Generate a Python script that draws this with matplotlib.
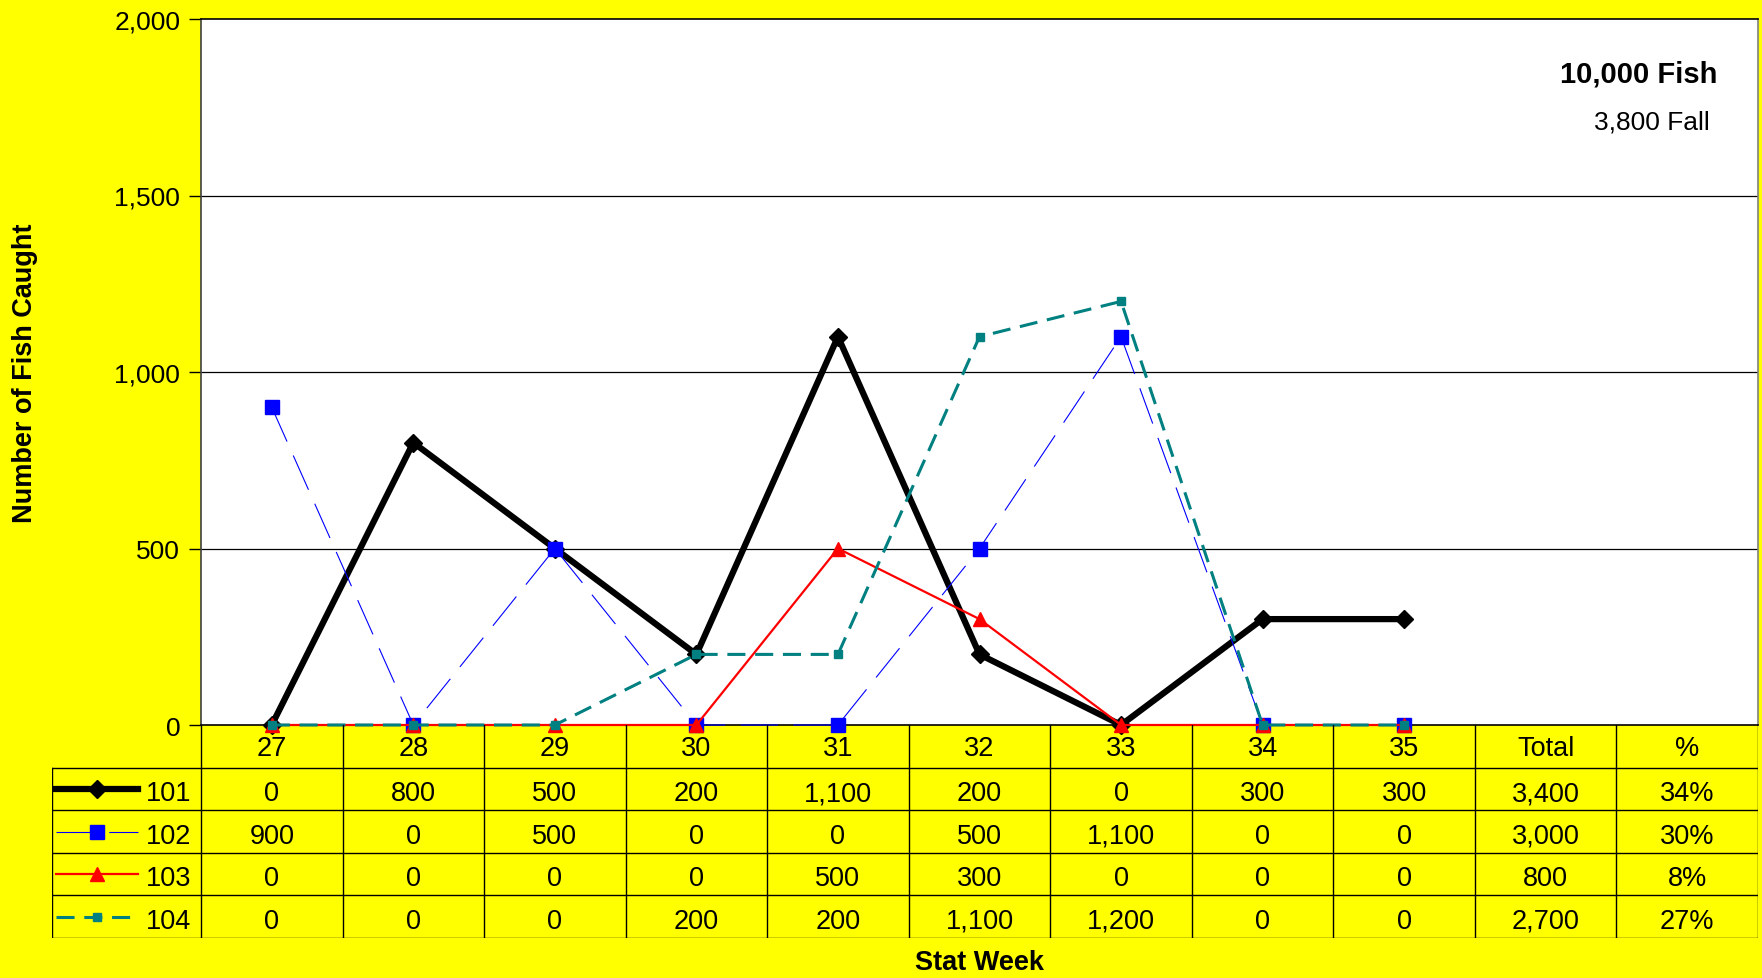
import matplotlib
matplotlib.use("Agg")
import matplotlib.pyplot as plt

plt.rcParams["font.family"] = ["Liberation Sans", "DejaVu Sans"]
plt.rcParams["lines.scale_dashes"] = False

weeks = ["27", "28", "29", "30", "31", "32", "33", "34", "35"]
series_names = ["101", "102", "103", "104"]
s101 = [0, 800, 500, 200, 1100, 200, 0, 300, 300]
s102 = [900, 0, 500, 0, 0, 500, 1100, 0, 0]
s103 = [0, 0, 0, 0, 500, 300, 0, 0, 0]
s104 = [0, 0, 0, 200, 200, 1100, 1200, 0, 0]
total_fish = 10000
fall_fish = 3800

YELLOW = "#FFFF00"
W, H = 1762, 979

# line styles per series
styles = {
    "101": dict(color="black", lw=4.5, marker="D", ms=9, ls="-"),
    "102": dict(color="#0000FF", lw=0.8, marker="s", ms=10, dashes=(27, 11)),
    "103": dict(color="#FF0000", lw=1.6, marker="^", ms=10, ls="-"),
    "104": dict(color="#008080", lw=2.2, marker="s", ms=6, dashes=(13, 7)),
}


def style_kwargs(name):
    st = styles[name]
    kw = dict(color=st["color"], linewidth=st["lw"], marker=st["marker"],
              markersize=st["ms"], markerfacecolor=st["color"],
              markeredgecolor=st["color"])
    if "dashes" in st:
        kw["dashes"] = st["dashes"]
    else:
        kw["linestyle"] = st["ls"]
    return kw


fig = plt.figure(figsize=(W / 100, H / 100), dpi=100, facecolor=YELLOW)

# main plot area (pixel positions from the reference)
left, right, top, bottom = 201, 1758, 20, 726
ax = fig.add_axes([left / W, 1 - bottom / H, (right - left) / W, (bottom - top) / H])
ax.set_facecolor("white")
ncols = len(weeks) + 2
ax.set_xlim(-0.5, ncols - 0.5)
ax.set_ylim(0, 2000)
ax.set_yticks([0, 500, 1000, 1500, 2000])
ax.set_yticklabels([f"{v:,}" for v in [0, 500, 1000, 1500, 2000]], fontsize=19)
ax.tick_params(axis="y", length=9, width=1, pad=6)
ax.set_xticks([])
for y in [500, 1000, 1500]:
    ax.axhline(y, color="black", lw=0.9, zorder=1)
ax.spines["top"].set_color("black")
ax.spines["right"].set_color("#808080")
ax.spines["left"].set_color("#404040")
ax.spines["bottom"].set_color("black")
for sp in ax.spines.values():
    sp.set_linewidth(1.2)

x = list(range(len(weeks)))
for i, (name, vals) in enumerate(zip(series_names, [s101, s102, s103, s104])):
    ax.plot(x, vals, zorder=3 + i, clip_on=False, **style_kwargs(name))

ax.text(0.9737, 0.9235, f"{total_fish:,} Fish", transform=ax.transAxes,
        ha="right", va="center", fontsize=21, fontweight="bold")
ax.text(0.969, 0.8555, f"{fall_fish:,} Fall", transform=ax.transAxes,
        ha="right", va="center", fontsize=19)

ax.set_ylabel("Number of Fish Caught", fontsize=19.5, fontweight="bold")
ax.yaxis.set_label_coords(-(left - 38) / (right - left), 0.5)

# data table below the plot
tleft, tbottom = 52, 939
px_per_unit = (right - left) / ncols
xmin = -0.5 - (left - tleft) / px_per_unit
tax = fig.add_axes([tleft / W, 1 - tbottom / H, (right - tleft) / W, (tbottom - bottom) / H])
tax.set_xlim(xmin, ncols - 0.5)
tax.set_ylim(0, 5)
tax.axis("off")

for yy in [0, 1, 2, 3, 4]:
    tax.plot([xmin, ncols - 0.5], [yy, yy], color="black", lw=1.0)
for k in range(ncols + 1):
    tax.plot([k - 0.5, k - 0.5], [0, 5], color="black", lw=1.0)
tax.plot([xmin, xmin], [0, 4], color="black", lw=1.0)

header = weeks + ["Total", "%"]
for k, lab in enumerate(header):
    tax.text(k, 4.47, lab, ha="center", va="center", fontsize=19.5)

for r, (name, vals) in enumerate(zip(series_names, [s101, s102, s103, s104])):
    yc = 3.5 - r
    tot = sum(vals)
    cells = [f"{v:,}" for v in vals] + [f"{tot:,}", f"{round(100 * tot / total_fish)}%"]
    for k, c in enumerate(cells):
        tax.text(k, yc - 0.1, c, ha="center", va="center", fontsize=19.5)
    # legend key in the row label cell
    x0 = xmin + 4 / px_per_unit
    x1 = xmin + 86 / px_per_unit
    tax.plot([x0, x1], [yc, yc], markevery=[], **style_kwargs(name))
    tax.plot([(x0 + x1) / 2], [yc], **style_kwargs(name))
    tax.text(xmin + 94 / px_per_unit, yc - 0.1, name, ha="left", va="center", fontsize=19.5)

fig.text((left + right) / 2 / W, 1 - 963 / H, "Stat Week", ha="center", va="center",
         fontsize=19.5, fontweight="bold")

fig.savefig("out.png", dpi=100, facecolor=YELLOW)
